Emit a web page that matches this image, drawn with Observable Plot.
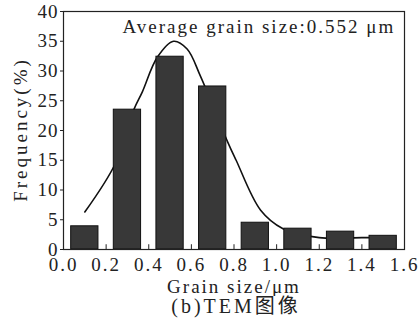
<!DOCTYPE html>
<html><head><meta charset="utf-8">
<script src="https://cdn.jsdelivr.net/npm/d3@7"></script>
<script src="https://cdn.jsdelivr.net/npm/@observablehq/plot@0.6"></script>
<style>
body{margin:0;background:#fff;}
#c{width:420px;height:327px;overflow:hidden;}
.cap{font-family:"Liberation Serif","Noto Sans CJK SC",serif;font-size:20px;line-height:20px;letter-spacing:3px;width:368px;padding-left:52px;text-align:center;color:#222;}
#c svg g[aria-label="y-axis tick label"] text{letter-spacing:1px;}
#c svg g[aria-label="x-axis tick label"] text{letter-spacing:2px;}
</style></head>
<body><div id="c"></div>
<script>
const binCenters = [0.1, 0.3, 0.5, 0.7, 0.9, 1.1, 1.3, 1.5];
const frequencies = [3.9, 23.5, 32.4, 27.4, 4.5, 3.5, 3.0, 2.3];
const curveX = [0.1, 0.244, 0.33, 0.37, 0.44, 0.516, 0.58, 0.643, 0.77, 0.81, 0.925, 1.03, 1.2, 1.4, 1.5];
const curveY = [6.3, 14.5, 23.5, 26.5, 32.3, 35, 33.7, 29.1, 18.1, 15, 6.6, 3.5, 2.0, 2.0, 2.0];
const xTicks = [0, 0.2, 0.4, 0.6, 0.8, 1.0, 1.2, 1.4, 1.6];
const yTicks = [0, 5, 10, 15, 20, 25, 30, 35, 40];
const title = "Average grain size:0.552 μm";
const xLabel = "Grain size/μm";
const yLabel = "Frequency(%)";
const caption = "(b)TEM图像";

const bars = binCenters.map((x, i) => ({x1: x - 0.064, x2: x + 0.064, y: frequencies[i]}));
const curve = curveX.map((x, i) => ({x, y: curveY[i]}));
const font = '"Liberation Serif","Noto Sans CJK SC",serif';

const chart = Plot.plot({
  width: 420, height: 296,
  marginLeft: 63, marginRight: 16, marginTop: 11, marginBottom: 47,
  style: {fontFamily: font, fontSize: "19px", color: "#111", background: "#fff"},
  x: {domain: [0, 1.6]},
  y: {domain: [0, 40]},
  marks: [
    Plot.line(curve, {x: "x", y: "y", curve: "catmull-rom", stroke: "#111", strokeWidth: 1.6}),
    Plot.rectY(bars, {x1: "x1", x2: "x2", y: "y", fill: "#383838", stroke: "#111", strokeWidth: 1}),
    Plot.frame({stroke: "#222", strokeWidth: 1.2}),
    Plot.axisY(yTicks, {anchor: "left", tickSize: 3, tickPadding: 2, label: null, stroke: "#222", fill: "#222"}),
    Plot.axisX(xTicks, {anchor: "bottom", tickSize: 0, tickPadding: 8, tickFormat: d3.format(".1f"), label: null, fill: "#222"}),
    Plot.ruleX(xTicks, {x: d => d, y1: 0, y2: 0.8, stroke: "#222"}),
    Plot.text([title], {frameAnchor: "top-left", dx: 59, dy: 8, textAnchor: "start", lineAnchor: "top", fontSize: 19, fill: "#222"}),
    Plot.text([xLabel], {frameAnchor: "bottom", dx: 0, dy: 43, lineAnchor: "bottom", fontSize: 19, fill: "#222"}),
    Plot.text([yLabel], {frameAnchor: "left", dx: -43, dy: -1, rotate: -90, textAnchor: "middle", fontSize: 19, fill: "#222"})
  ]
});
const spacing = new Map([[title, "2px"], [xLabel, "2px"], [yLabel, "3px"]]);
d3.select(chart).selectAll("text").each(function() {
  const s = spacing.get(this.textContent);
  if (s) this.style.letterSpacing = s;
});
document.getElementById("c").append(chart);
const cap = document.createElement("div");
cap.className = "cap";
cap.textContent = caption;
document.getElementById("c").append(cap);
</script></body></html>
